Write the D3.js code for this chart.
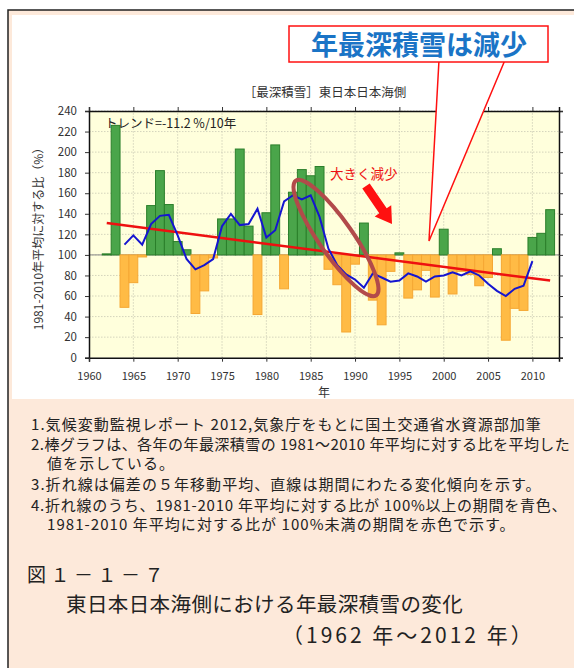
<!DOCTYPE html>
<html><head><meta charset="utf-8">
<script src="https://cdn.jsdelivr.net/npm/d3@7"></script>
<style>body{margin:0;background:#fff}svg{display:block}text{font-family:"Noto Sans CJK JP","Noto Sans",sans-serif}</style>
</head><body><svg id="c" width="574" height="668"></svg>
<script>
// ---- data ----
const barYears = d3.range(1962, 2013);
const ratio = [101,226,49,73,98,148,182,149,113,105,43,65,97,135,135,203,128,42,141,207,67,161,183,177,186,86,71,25,91,131,56,32,84,102,58,66,85,59,125,62,84,81,70,78,106,17,48,46,117,121,144];
const maYears = d3.range(1964, 2011);
const movingAvg = [110,119,110,130,138,139,119,96,86,90,96,128,140,129,130,145,117,124,152,158,154,158,137,106,90,81,76,68,82,78,74,75,82,79,74,79,80,83,80,84,80,72,65,60,67,70,94];
const trendYears = [1962, 2012];
const trendVals = [131, 75];
const xTicks = d3.range(1960, 2011, 5);
const yTicks = d3.range(0, 241, 20);
const chartTitle = "［最深積雪］東日本日本海側";
const trendLabel = "トレンド=-11.2 %/10年";
const yLabel = "1981-2010年平均に対する比（%）";
const xLabel = "年";
const headline = "年最深積雪は減少";
const bigDrop = "大きく減少";
const notes = [
  "1.気候変動監視レポート 2012,気象庁をもとに国土交通省水資源部加筆",
  "2.棒グラフは、各年の年最深積雪の 1981～2010 年平均に対する比を平均した",
  "　値を示している。",
  "3.折れ線は偏差の５年移動平均、直線は期間にわたる変化傾向を示す。",
  "4.折れ線のうち、1981-2010 年平均に対する比が 100%以上の期間を青色、",
  "　1981-2010 年平均に対する比が 100%未満の期間を赤色で示す。"
];
const figNo = "図１－１－７";
const figTitle = "東日本日本海側における年最深積雪の変化";
const figPeriod = "（1962 年～2012 年）";

// ---- drawing ----
const svg = d3.select("#c");
svg.append("rect").attr("x",8).attr("y",10).attr("width",600).attr("height",700)
  .attr("fill","#fde9da").attr("stroke","#222").attr("stroke-width",1.5);
svg.append("rect").attr("x",12).attr("y",15).attr("width",600).attr("height",384).attr("fill","#fff");

const x = d3.scaleLinear().domain([1960, 2013]).range([89, 559]);
const y = d3.scaleLinear().domain([0, 240]).range([357.7, 111]);
const [X0, X1] = x.range(), [Y0, Y1] = y.range();

const g = svg.append("g");
g.append("rect").attr("x",X0).attr("y",Y1).attr("width",X1-X0).attr("height",Y0-Y1).attr("fill","#ffffdc");

// grid
g.append("g").selectAll("line").data(yTicks.slice(1)).join("line")
  .attr("x1",X0).attr("x2",X1).attr("y1",d=>y(d)).attr("y2",d=>y(d))
  .attr("stroke","#c9c9b4").attr("stroke-width",0.8).attr("stroke-dasharray","1.5,1.5");
g.append("g").selectAll("line").data(xTicks.slice(1)).join("line")
  .attr("y1",Y0).attr("y2",Y1).attr("x1",d=>x(d)).attr("x2",d=>x(d))
  .attr("stroke","#c9c9b4").attr("stroke-width",0.8).attr("stroke-dasharray","1.5,1.5");

// baseline at 100
g.append("line").attr("x1",X0).attr("x2",X1).attr("y1",y(100)).attr("y2",y(100)).attr("stroke","#888").attr("stroke-width",1);

// bars
const bars = barYears.map((yr,i)=>({yr, v:ratio[i]}));
g.append("g").selectAll("rect").data(bars).join("rect")
  .attr("x",d=>x(d.yr-0.5)).attr("width",d=>x(d.yr+0.5)-x(d.yr-0.5))
  .attr("y",d=>y(Math.max(d.v,100))).attr("height",d=>Math.abs(y(d.v)-y(100)))
  .attr("fill",d=>d.v>=100?"#4aa54a":"#ffbb45")
  .attr("stroke",d=>d.v>=100?"#2b7f2b":"#f5a733").attr("stroke-width",1);

// trend
g.append("path").datum(trendYears.map((t,i)=>[t,trendVals[i]]))
  .attr("d",d3.line().x(d=>x(d[0])).y(d=>y(d[1])))
  .attr("fill","none").attr("stroke","#ee1010").attr("stroke-width",2.5);

// moving average
g.append("path").datum(maYears.map((t,i)=>[t,movingAvg[i]]))
  .attr("d",d3.line().x(d=>x(d[0])).y(d=>y(d[1])))
  .attr("fill","none").attr("stroke","#1515d0").attr("stroke-width",2);

// axes
const axFont = g=>g.selectAll("text").attr("font-size","11.5px").attr("fill","#333").attr("font-family","'Noto Sans CJK JP',sans-serif");
const left = svg.append("g").attr("transform",`translate(${X0},0)`).call(d3.axisLeft(y).tickValues(yTicks).tickSize(4).tickPadding(8));
left.call(axFont);
const bottom = svg.append("g").attr("transform",`translate(0,${Y0})`).call(d3.axisBottom(x).tickValues(xTicks).tickSize(4).tickPadding(11).tickFormat(d3.format("d")));
bottom.call(axFont);
bottom.selectAll("text").attr("font-size","11px");
svg.append("g").attr("transform",`translate(${X1},0)`).call(d3.axisRight(y).tickValues(yTicks).tickSize(4).tickFormat(""));
svg.append("g").attr("transform",`translate(0,${Y1})`).call(d3.axisTop(x).tickValues(xTicks).tickSize(4).tickFormat(""));
svg.selectAll(".domain").attr("stroke","#111").attr("stroke-width",1.5);
svg.selectAll(".tick line").attr("stroke","#333");

// texts
svg.append("text").attr("x",325).attr("y",97).attr("text-anchor","middle").attr("font-size","12.5px").attr("fill","#333").text(chartTitle);
svg.append("text").attr("x",105).attr("y",128).attr("font-size","12.5px").attr("fill","#222").text(trendLabel);
svg.append("text").attr("transform","translate(43,236) rotate(-90)").attr("text-anchor","middle").attr("font-size","12px").attr("fill","#333").text(yLabel);
svg.append("text").attr("x",(X0+X1)/2).attr("y",397).attr("text-anchor","middle").attr("font-size","12px").attr("fill","#333").text(xLabel);

// ellipse
svg.append("ellipse").attr("cx",336).attr("cy",238).attr("rx",70).attr("ry",17)
  .attr("transform","rotate(55,336,238)").attr("fill","none").attr("stroke","#b24a4a").attr("stroke-width",4);

// arrow
const ax0=[366,186], ax1=[392,224];
const ang = Math.atan2(ax1[1]-ax0[1], ax1[0]-ax0[0])*180/Math.PI;
const L = Math.hypot(ax1[0]-ax0[0], ax1[1]-ax0[1]);
svg.append("path").attr("transform",`translate(${ax0[0]},${ax0[1]}) rotate(${ang})`)
  .attr("d",`M0,-4.5 L${L-16},-4.5 L${L-16},-10 L${L},0 L${L-16},10 L${L-16},4.5 L0,4.5 Z`)
  .attr("fill","#ff1010");
svg.append("text").attr("x",330).attr("y",179).attr("font-size","13.5px").attr("fill","#ee1111").text(bigDrop);

// callout
svg.append("path").attr("d","M439,60 L429,241 L505,60 Z").attr("fill","#fff").attr("stroke","none");
svg.append("path").attr("d","M439,60 L429,241 L505,60").attr("fill","none").attr("stroke","#ff1010").attr("stroke-width",1.5);
svg.append("rect").attr("x",289).attr("y",26).attr("width",259).attr("height",36).attr("fill","#fff").attr("stroke","#ff1010").attr("stroke-width",1.5);
svg.append("text").attr("x",419).attr("y",55).attr("text-anchor","middle").attr("font-size","27px").attr("font-weight","bold").attr("fill","#1a74c6").text(headline);

// notes
const noteY = [430,450,469,490,511,530];
const noteSpacing = [1.05,0.45,1.05,1.05,0.75,1.05];
svg.append("g").selectAll("text").data(notes).join("text")
  .attr("x",31).attr("y",(d,i)=>noteY[i]).attr("font-size","15px")
  .attr("letter-spacing",(d,i)=>noteSpacing[i]+"px").attr("fill","#222").text(d=>d);
svg.append("text").attr("x",27).attr("y",582).attr("font-size","19px").attr("fill","#222").attr("letter-spacing","4.5px").text(figNo);
svg.append("text").attr("x",66).attr("y",612).attr("font-size","20.5px").attr("letter-spacing","0.4px").attr("fill","#222").text(figTitle);
svg.append("text").attr("x",282).attr("y",643).attr("font-size","21px").attr("fill","#222").attr("letter-spacing","3px").text(figPeriod);
</script></body></html>
